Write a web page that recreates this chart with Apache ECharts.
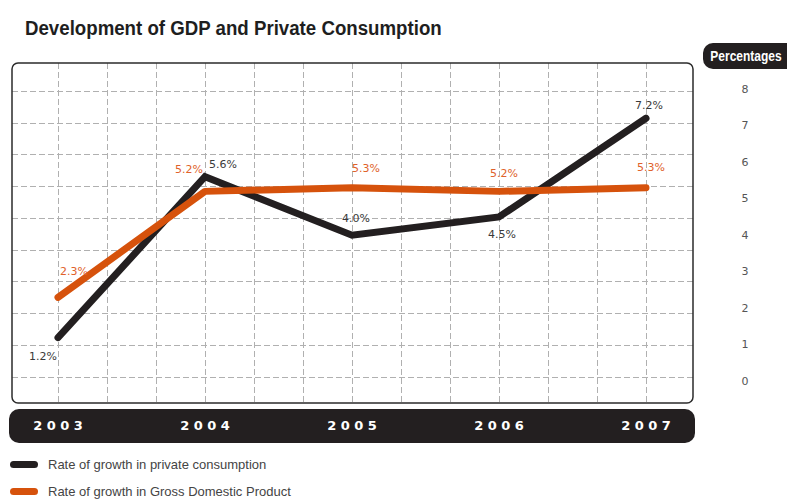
<!DOCTYPE html>
<html>
<head>
<meta charset="utf-8">
<script src="https://cdn.jsdelivr.net/npm/echarts@6/dist/echarts.min.js"></script>
<style>
html,body{margin:0;padding:0;background:#fff;}
#chart{width:787px;height:500px;}
</style>
</head>
<body>
<div id="chart"></div>
<script>
// ---- data ----
const years = ['2003', '2004', '2005', '2006', '2007'];
const privateConsumption = [1.2, 5.6, 4.0, 4.5, 7.2];
const gdpGrowth = [2.3, 5.2, 5.3, 5.2, 5.3];
const seriesNames = ['Rate of growth in private consumption', 'Rate of growth in Gross Domestic Product'];
const yTicks = { min: 0, max: 8, step: 1 };
const titleText = 'Development of GDP and Private Consumption';
const unitText = 'Percentages';

// ---- label placement (style, not data) ----
const blackLabelOffsets = [[-15, 19], [18, -12], [4, -17], [3, 18], [3, -13]];
const orangeLabelOffsets = [[16, -26], [-16, -22], [14, -19], [5, -18], [5, -20]];

const BLACK = '#231f20';
const ORANGE = '#d6520c';
const GRIDC = '#b0b0b0';

function pts(values, offsets, color) {
  return values.map((v, i) => ({
    value: v,
    label: { offset: offsets[i], color: color }
  }));
}
const dash = { type: [6, 3], color: GRIDC, width: 1 };
const blankCats = n => Array.from({ length: n }, (_, i) => 'g' + i);

const chart = echarts.init(document.getElementById('chart'), null, { renderer: 'svg' });
chart.setOption({
  animation: false,
  backgroundColor: '#ffffff',
  grid: [
    { left: 58, right: 141, top: 89, bottom: 118.5 },   // data grid
    { left: 58, right: 141, top: 63, bottom: 97 },      // vertical dashed lines
    { left: 12, right: 94, top: 91, bottom: 123 }       // horizontal dashed lines
  ],
  xAxis: [
    {
      gridIndex: 0, type: 'category', data: years, boundaryGap: false, z: 10,
      axisLine: { show: false }, axisTick: { show: false }, splitLine: { show: false },
      axisLabel: {
        margin: 37, color: '#ffffff', fontWeight: 'bold', fontSize: 13,
        fontFamily: 'DejaVu Sans',
        formatter: v => v.split('').join(' ')
      }
    },
    {
      gridIndex: 1, type: 'category', data: blankCats(13), boundaryGap: false,
      axisLine: { show: false }, axisTick: { show: false }, axisLabel: { show: false },
      splitLine: { show: true, lineStyle: dash }
    },
    { gridIndex: 2, type: 'value', show: false }
  ],
  yAxis: [
    {
      gridIndex: 0, type: 'value', position: 'right',
      min: yTicks.min, max: yTicks.max, interval: yTicks.step,
      axisLine: { show: false }, axisTick: { show: false }, splitLine: { show: false },
      axisLabel: { margin: 99, align: 'center', color: '#555', fontSize: 11, fontFamily: 'DejaVu Sans' }
    },
    { gridIndex: 1, type: 'value', show: false },
    {
      gridIndex: 2, type: 'category', data: blankCats(10), boundaryGap: false,
      axisLine: { show: false }, axisTick: { show: false }, axisLabel: { show: false },
      splitLine: { show: true, lineStyle: dash }
    }
  ],
  legend: {
    orient: 'vertical', left: 10, top: 458, height: 60, padding: 0,
    itemWidth: 28, itemHeight: 7, itemGap: 14,
    icon: 'path://M3.5,0 H24.5 A3.5,3.5 0 0 1 24.5,7 H3.5 A3.5,3.5 0 0 1 3.5,0 Z',
    textStyle: { color: '#444', fontSize: 13, fontFamily: 'Liberation Sans', padding: [0, 0, 0, 5] },
    data: seriesNames
  },
  graphic: [
    {
      type: 'rect', z: -10, silent: true,
      shape: { x: 9, y: 409, width: 686, height: 34, r: 10 },
      style: { fill: BLACK }
    },
    {
      type: 'rect', z: 5, silent: true,
      shape: { x: 12, y: 63, width: 681, height: 340, r: 6 },
      style: { fill: 'none', stroke: '#2b2b2b', lineWidth: 1.5 }
    },
    {
      type: 'rect', silent: true,
      shape: { x: 703, y: 43, width: 95, height: 26, r: 10 },
      style: { fill: BLACK }
    },
    {
      type: 'text', silent: true, x: 746, y: 56, scaleX: 0.8,
      style: {
        text: unitText, x: 0, y: 0, fill: '#ffffff', fontSize: 15, fontWeight: 'bold',
        fontFamily: 'Liberation Sans', textAlign: 'center', textVerticalAlign: 'middle'
      }
    },
    {
      type: 'text', silent: true, x: 25, y: 28, scaleX: 0.89,
      style: {
        text: titleText, x: 0, y: 0, fill: '#1e1e1e', fontSize: 21, fontWeight: 'bold',
        fontFamily: 'Liberation Sans', textAlign: 'left', textVerticalAlign: 'middle'
      }
    }
  ],
  series: [
    {
      name: seriesNames[0], type: 'line', xAxisIndex: 0, yAxisIndex: 0,
      data: pts(privateConsumption, blackLabelOffsets, '#3a3a3a'),
      color: BLACK, symbol: 'circle', symbolSize: 1, z: 3,
      lineStyle: { width: 7, color: BLACK, cap: 'round', join: 'miter' },
      itemStyle: { color: BLACK },
      label: {
        show: true, position: 'inside', fontSize: 11, fontFamily: 'DejaVu Sans',
        formatter: p => p.value.toFixed(1) + '%'
      },
      emphasis: { disabled: true }
    },
    {
      name: seriesNames[1], type: 'line', xAxisIndex: 0, yAxisIndex: 0,
      data: pts(gdpGrowth, orangeLabelOffsets, '#e0622a'),
      color: ORANGE, symbol: 'circle', symbolSize: 1, z: 4,
      lineStyle: { width: 7, color: ORANGE, cap: 'round', join: 'round' },
      itemStyle: { color: ORANGE },
      label: {
        show: true, position: 'inside', fontSize: 11, fontFamily: 'DejaVu Sans',
        formatter: p => p.value.toFixed(1) + '%'
      },
      emphasis: { disabled: true }
    }
  ]
});
</script>
</body>
</html>
